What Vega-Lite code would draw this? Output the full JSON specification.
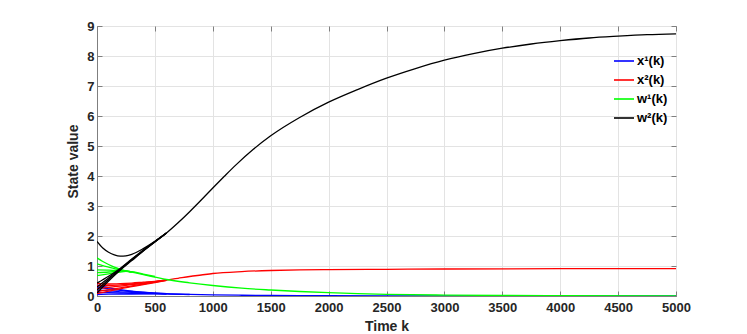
{
  "$schema": "https://vega.github.io/schema/vega-lite/v6.json",
  "width": 579,
  "height": 270,
  "autosize": {"type": "none"},
  "padding": {"left": 97, "top": 26, "right": 71, "bottom": 38},
  "background": "white",
  "config": {
    "font": "Liberation Sans",
    "view": {"stroke": "#7f7f7f", "strokeWidth": 1},
    "axis": {
      "domainColor": "#7f7f7f",
      "tickColor": "#7f7f7f",
      "gridColor": "#e3e3e3",
      "labelFont": "Liberation Sans",
      "labelFontWeight": "bold",
      "labelFontSize": 13,
      "labelColor": "#262626",
      "labelFlush": false,
      "labelOverlap": false,
      "titleFont": "Liberation Sans",
      "titleFontWeight": "bold",
      "titleFontSize": 14,
      "titleColor": "#262626",
      "tickSize": -5
    }
  },
  "data": {
    "values": [
      {"s":"x1","a":0,"k":0,"v":0.3},{"s":"x1","a":0,"k":100,"v":0.24},{"s":"x1","a":0,"k":200,"v":0.19},{"s":"x1","a":0,"k":300,"v":0.15},{"s":"x1","a":0,"k":400,"v":0.12},{"s":"x1","a":0,"k":500,"v":0.095},{"s":"x1","a":0,"k":600,"v":0.075},{"s":"x1","a":0,"k":800,"v":0.052},{"s":"x1","a":0,"k":1000,"v":0.036},{"s":"x1","a":0,"k":1250,"v":0.025},{"s":"x1","a":0,"k":1500,"v":0.018},{"s":"x1","a":0,"k":1750,"v":0.013},{"s":"x1","a":0,"k":2000,"v":0.01},{"s":"x1","a":0,"k":2500,"v":0.006},{"s":"x1","a":0,"k":3000,"v":0.004},{"s":"x1","a":0,"k":3500,"v":0.002},{"s":"x1","a":0,"k":4000,"v":0.001},{"s":"x1","a":0,"k":5000,"v":0},
      {"s":"x1","a":1,"k":0,"v":0.36},{"s":"x1","a":1,"k":100,"v":0.28},{"s":"x1","a":1,"k":200,"v":0.21},{"s":"x1","a":1,"k":300,"v":0.16},{"s":"x1","a":1,"k":400,"v":0.125},{"s":"x1","a":1,"k":500,"v":0.097},{"s":"x1","a":1,"k":600,"v":0.076},
      {"s":"x1","a":2,"k":0,"v":0.2},{"s":"x1","a":2,"k":100,"v":0.17},{"s":"x1","a":2,"k":200,"v":0.14},{"s":"x1","a":2,"k":300,"v":0.12},{"s":"x1","a":2,"k":400,"v":0.1},{"s":"x1","a":2,"k":500,"v":0.085},{"s":"x1","a":2,"k":600,"v":0.074},
      {"s":"x1","a":3,"k":0,"v":0.12},{"s":"x1","a":3,"k":100,"v":0.11},{"s":"x1","a":3,"k":200,"v":0.1},{"s":"x1","a":3,"k":300,"v":0.09},{"s":"x1","a":3,"k":400,"v":0.082},{"s":"x1","a":3,"k":500,"v":0.077},{"s":"x1","a":3,"k":600,"v":0.072},
      {"s":"x1","a":4,"k":0,"v":0.05},{"s":"x1","a":4,"k":100,"v":0.06},{"s":"x1","a":4,"k":200,"v":0.063},{"s":"x1","a":4,"k":300,"v":0.066},{"s":"x1","a":4,"k":400,"v":0.068},{"s":"x1","a":4,"k":500,"v":0.07},{"s":"x1","a":4,"k":600,"v":0.07},{"s":"x1","a":4,"k":800,"v":0.05},
      {"s":"x2","a":0,"k":0,"v":0.25},{"s":"x2","a":0,"k":100,"v":0.29},{"s":"x2","a":0,"k":200,"v":0.33},{"s":"x2","a":0,"k":300,"v":0.38},{"s":"x2","a":0,"k":400,"v":0.42},{"s":"x2","a":0,"k":500,"v":0.47},{"s":"x2","a":0,"k":600,"v":0.53},{"s":"x2","a":0,"k":700,"v":0.59},{"s":"x2","a":0,"k":800,"v":0.65},{"s":"x2","a":0,"k":900,"v":0.7},{"s":"x2","a":0,"k":1000,"v":0.75},{"s":"x2","a":0,"k":1250,"v":0.815},{"s":"x2","a":0,"k":1500,"v":0.85},{"s":"x2","a":0,"k":1750,"v":0.87},{"s":"x2","a":0,"k":2000,"v":0.88},{"s":"x2","a":0,"k":2500,"v":0.89},{"s":"x2","a":0,"k":3000,"v":0.9},{"s":"x2","a":0,"k":4000,"v":0.91},{"s":"x2","a":0,"k":5000,"v":0.91},
      {"s":"x2","a":1,"k":0,"v":0.08},{"s":"x2","a":1,"k":100,"v":0.16},{"s":"x2","a":1,"k":200,"v":0.24},{"s":"x2","a":1,"k":300,"v":0.31},{"s":"x2","a":1,"k":400,"v":0.38},{"s":"x2","a":1,"k":500,"v":0.45},{"s":"x2","a":1,"k":600,"v":0.52},
      {"s":"x2","a":2,"k":0,"v":0.15},{"s":"x2","a":2,"k":100,"v":0.21},{"s":"x2","a":2,"k":200,"v":0.27},{"s":"x2","a":2,"k":300,"v":0.34},{"s":"x2","a":2,"k":400,"v":0.4},{"s":"x2","a":2,"k":500,"v":0.46},{"s":"x2","a":2,"k":600,"v":0.525},
      {"s":"x2","a":3,"k":0,"v":0.35},{"s":"x2","a":3,"k":100,"v":0.35},{"s":"x2","a":3,"k":200,"v":0.37},{"s":"x2","a":3,"k":300,"v":0.4},{"s":"x2","a":3,"k":400,"v":0.44},{"s":"x2","a":3,"k":500,"v":0.48},{"s":"x2","a":3,"k":600,"v":0.535},
      {"s":"x2","a":4,"k":0,"v":0.42},{"s":"x2","a":4,"k":100,"v":0.4},{"s":"x2","a":4,"k":200,"v":0.41},{"s":"x2","a":4,"k":300,"v":0.43},{"s":"x2","a":4,"k":400,"v":0.46},{"s":"x2","a":4,"k":500,"v":0.49},{"s":"x2","a":4,"k":600,"v":0.54},
      {"s":"w1","a":0,"k":0,"v":1.27},{"s":"w1","a":0,"k":50,"v":1.15},{"s":"w1","a":0,"k":100,"v":1.05},{"s":"w1","a":0,"k":150,"v":0.96},{"s":"w1","a":0,"k":200,"v":0.89},{"s":"w1","a":0,"k":250,"v":0.84},{"s":"w1","a":0,"k":300,"v":0.8},{"s":"w1","a":0,"k":400,"v":0.71},{"s":"w1","a":0,"k":500,"v":0.63},{"s":"w1","a":0,"k":600,"v":0.55},{"s":"w1","a":0,"k":800,"v":0.44},{"s":"w1","a":0,"k":1000,"v":0.35},{"s":"w1","a":0,"k":1250,"v":0.26},{"s":"w1","a":0,"k":1500,"v":0.2},{"s":"w1","a":0,"k":1750,"v":0.15},{"s":"w1","a":0,"k":2000,"v":0.11},{"s":"w1","a":0,"k":2250,"v":0.08},{"s":"w1","a":0,"k":2500,"v":0.055},{"s":"w1","a":0,"k":3000,"v":0.03},{"s":"w1","a":0,"k":3500,"v":0.017},{"s":"w1","a":0,"k":4000,"v":0.01},{"s":"w1","a":0,"k":5000,"v":0.003},
      {"s":"w1","a":1,"k":0,"v":1.07},{"s":"w1","a":1,"k":50,"v":1.01},{"s":"w1","a":1,"k":100,"v":0.96},{"s":"w1","a":1,"k":150,"v":0.91},{"s":"w1","a":1,"k":200,"v":0.87},{"s":"w1","a":1,"k":250,"v":0.84},{"s":"w1","a":1,"k":300,"v":0.8},
      {"s":"w1","a":2,"k":0,"v":0.87},{"s":"w1","a":2,"k":100,"v":0.86},{"s":"w1","a":2,"k":200,"v":0.85},{"s":"w1","a":2,"k":250,"v":0.83},{"s":"w1","a":2,"k":300,"v":0.81},{"s":"w1","a":2,"k":400,"v":0.73},{"s":"w1","a":2,"k":500,"v":0.65},
      {"s":"w1","a":3,"k":0,"v":0.78},{"s":"w1","a":3,"k":100,"v":0.8},{"s":"w1","a":3,"k":200,"v":0.83},{"s":"w1","a":3,"k":250,"v":0.83},{"s":"w1","a":3,"k":300,"v":0.8},
      {"s":"w1","a":4,"k":0,"v":0.68},{"s":"w1","a":4,"k":100,"v":0.74},{"s":"w1","a":4,"k":200,"v":0.8},{"s":"w1","a":4,"k":250,"v":0.82},{"s":"w1","a":4,"k":300,"v":0.8},
      {"s":"w2","a":0,"k":0,"v":1.82},{"s":"w2","a":0,"k":50,"v":1.6},{"s":"w2","a":0,"k":100,"v":1.46},{"s":"w2","a":0,"k":150,"v":1.37},{"s":"w2","a":0,"k":200,"v":1.33},{"s":"w2","a":0,"k":250,"v":1.34},{"s":"w2","a":0,"k":300,"v":1.39},{"s":"w2","a":0,"k":400,"v":1.58},{"s":"w2","a":0,"k":500,"v":1.82},{"s":"w2","a":0,"k":600,"v":2.1},{"s":"w2","a":0,"k":700,"v":2.44},{"s":"w2","a":0,"k":800,"v":2.81},{"s":"w2","a":0,"k":900,"v":3.2},{"s":"w2","a":0,"k":1000,"v":3.6},{"s":"w2","a":0,"k":1100,"v":3.99},{"s":"w2","a":0,"k":1200,"v":4.37},{"s":"w2","a":0,"k":1350,"v":4.89},{"s":"w2","a":0,"k":1500,"v":5.34},{"s":"w2","a":0,"k":1750,"v":5.95},{"s":"w2","a":0,"k":2000,"v":6.46},{"s":"w2","a":0,"k":2250,"v":6.88},{"s":"w2","a":0,"k":2500,"v":7.26},{"s":"w2","a":0,"k":2750,"v":7.58},{"s":"w2","a":0,"k":3000,"v":7.86},{"s":"w2","a":0,"k":3250,"v":8.08},{"s":"w2","a":0,"k":3500,"v":8.26},{"s":"w2","a":0,"k":3750,"v":8.4},{"s":"w2","a":0,"k":4000,"v":8.51},{"s":"w2","a":0,"k":4250,"v":8.6},{"s":"w2","a":0,"k":4500,"v":8.66},{"s":"w2","a":0,"k":4750,"v":8.71},{"s":"w2","a":0,"k":5000,"v":8.74},
      {"s":"w2","a":1,"k":0,"v":0.1},{"s":"w2","a":1,"k":100,"v":0.5},{"s":"w2","a":1,"k":200,"v":0.86},{"s":"w2","a":1,"k":300,"v":1.18},{"s":"w2","a":1,"k":400,"v":1.5},{"s":"w2","a":1,"k":500,"v":1.8},{"s":"w2","a":1,"k":600,"v":2.1},
      {"s":"w2","a":2,"k":0,"v":0.2},{"s":"w2","a":2,"k":100,"v":0.55},{"s":"w2","a":2,"k":200,"v":0.88},{"s":"w2","a":2,"k":300,"v":1.2},{"s":"w2","a":2,"k":400,"v":1.51},{"s":"w2","a":2,"k":500,"v":1.81},{"s":"w2","a":2,"k":600,"v":2.1},
      {"s":"w2","a":3,"k":0,"v":0.3},{"s":"w2","a":3,"k":100,"v":0.6},{"s":"w2","a":3,"k":200,"v":0.9},{"s":"w2","a":3,"k":300,"v":1.21},{"s":"w2","a":3,"k":400,"v":1.52},{"s":"w2","a":3,"k":500,"v":1.81},{"s":"w2","a":3,"k":600,"v":2.1},
      {"s":"w2","a":4,"k":0,"v":0.43},{"s":"w2","a":4,"k":100,"v":0.66},{"s":"w2","a":4,"k":200,"v":0.92},{"s":"w2","a":4,"k":300,"v":1.23},{"s":"w2","a":4,"k":400,"v":1.53},{"s":"w2","a":4,"k":500,"v":1.82},{"s":"w2","a":4,"k":600,"v":2.1}
    ]
  },
  "layer": [
    {
      "mark": {"type": "line", "strokeWidth": 1.3, "interpolate": "monotone", "clip": true},
      "encoding": {
        "x": {"field": "k", "type": "quantitative", "scale": {"domain": [0, 5000], "nice": false},
              "axis": {"title": "Time k", "values": [0,500,1000,1500,2000,2500,3000,3500,4000,4500,5000], "labelPadding": 10, "titlePadding": 5, "format": "d"}},
        "y": {"field": "v", "type": "quantitative", "scale": {"domain": [0, 9], "nice": false},
              "axis": {"title": "State value", "values": [0,1,2,3,4,5,6,7,8,9], "labelPadding": 8, "titlePadding": 6}},
        "color": {"field": "s", "type": "nominal",
                  "scale": {"domain": ["x1","x2","w1","w2"], "range": ["#0000ff","#ff0000","#00ff00","#000000"]},
                  "legend": {"title": null, "orient": "none", "legendX": 516, "legendY": 24,
                             "symbolType": "stroke", "symbolSize": 400, "symbolStrokeWidth": 1.6,
                             "labelFont": "Liberation Sans", "labelFontWeight": "bold", "labelFontSize": 13, "labelColor": "#000000",
                             "labelOffset": 2, "rowPadding": 1, "padding": 0,
                             "labelExpr": "datum.label == 'x1' ? 'x¹(k)' : datum.label == 'x2' ? 'x²(k)' : datum.label == 'w1' ? 'w¹(k)' : 'w²(k)'"}},
        "detail": {"field": "a", "type": "nominal"}
      }
    },
    {
      "data": {"values": [{"k": 0, "v": 0}, {"k": 5000, "v": 9}]},
      "mark": {"type": "point", "opacity": 0},
      "encoding": {
        "x": {"field": "k", "type": "quantitative", "axis": {"orient": "top", "labels": false, "title": null, "grid": false, "domain": false, "values": [0,500,1000,1500,2000,2500,3000,3500,4000,4500,5000]}},
        "y": {"field": "v", "type": "quantitative", "axis": {"orient": "right", "labels": false, "title": null, "grid": false, "domain": false, "values": [0,1,2,3,4,5,6,7,8,9]}}
      }
    }
  ],
  "resolve": {"axis": {"x": "independent", "y": "independent"}}
}
